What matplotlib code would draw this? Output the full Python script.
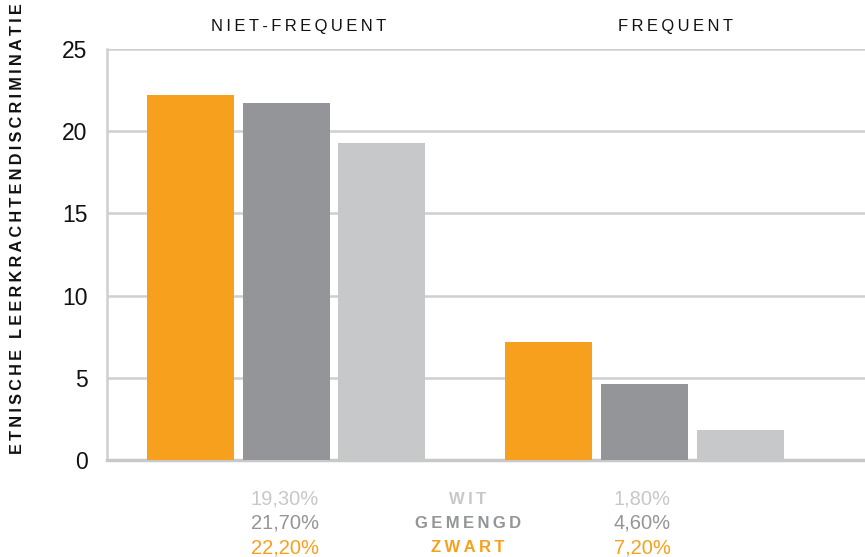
import numpy as np
import matplotlib.pyplot as plt

groups = ['NIET-FREQUENT', 'FREQUENT']
series = ['ZWART', 'GEMENGD', 'WIT']
zwart = [22.2, 7.2]
gemengd = [21.7, 4.6]
wit = [19.3, 1.8]
colors = ['#F7A01E', '#939598', '#C7C8CA']
yticks = [0, 5, 10, 15, 20, 25]

plt.rcParams['font.family'] = ['Liberation Sans', 'DejaVu Sans']


def spaced(s, sep='\u2009'):
    return sep.join(s)


fig = plt.figure(figsize=(8.65, 5.57), dpi=100)
ax = fig.add_axes([107 / 865, 97 / 557, 1 - 107 / 865, (460 - 49) / 557])

x = np.arange(len(groups))
step = 0.268
width = 0.243
for i, (vals, c) in enumerate(zip([zwart, gemengd, wit], colors)):
    ax.bar(x + (i - 1) * step, vals, width, color=c, zorder=3)

ax.set_xlim(-0.5, 1.617)
ax.set_ylim(0, 25)
ax.set_yticks(yticks)
ax.set_xticks([])
ax.yaxis.grid(True, color='#cfcfcf', linewidth=1.8, zorder=0)
for s in ['top', 'right']:
    ax.spines[s].set_visible(False)
ax.spines['left'].set_color('#cfcfcf')
ax.spines['left'].set_linewidth(1.8)
ax.spines['bottom'].set_color('#c8c8c8')
ax.spines['bottom'].set_linewidth(2.5)
ax.tick_params(axis='y', length=0, pad=14, labelsize=16.5, colors='#111111')

# group titles on top
fig.text(299 / 865, 1 - 27 / 557, spaced('NIET-FREQUENT'), ha='center', va='center',
         fontsize=12, color='#111111')
fig.text(675 / 865, 1 - 27 / 557, spaced('FREQUENT'), ha='center', va='center',
         fontsize=12, color='#111111')

# y label
fig.text(18 / 865, 1 - 229 / 557, spaced('ETNISCHE LEERKRACHTENDISCRIMINATIE'),
         rotation=90, ha='center', va='center', fontsize=11.7, fontweight='bold',
         color='#111111')

# bottom legend-like labels
rows_y = [499, 523, 548]
order = [2, 1, 0]  # WIT, GEMENGD, ZWART from top
pct_font = ['Liberation Sans Narrow', 'Liberation Sans']
for r, k in zip(rows_y, order):
    vals = [zwart, gemengd, wit][k]
    y = 1 - r / 557
    fig.text(285 / 865, y, f'{vals[0]:.2f}%'.replace('.', ','), ha='center', va='center',
             fontsize=14.5, color=colors[k], family=pct_font)
    fig.text(468 / 865, y, spaced(series[k]), ha='center', va='center',
             fontsize=12, fontweight='bold', color=colors[k])
    fig.text(642 / 865, y, f'{vals[1]:.2f}%'.replace('.', ','), ha='center', va='center',
             fontsize=14.5, color=colors[k], family=pct_font)

fig.savefig('out.png', dpi=100)
